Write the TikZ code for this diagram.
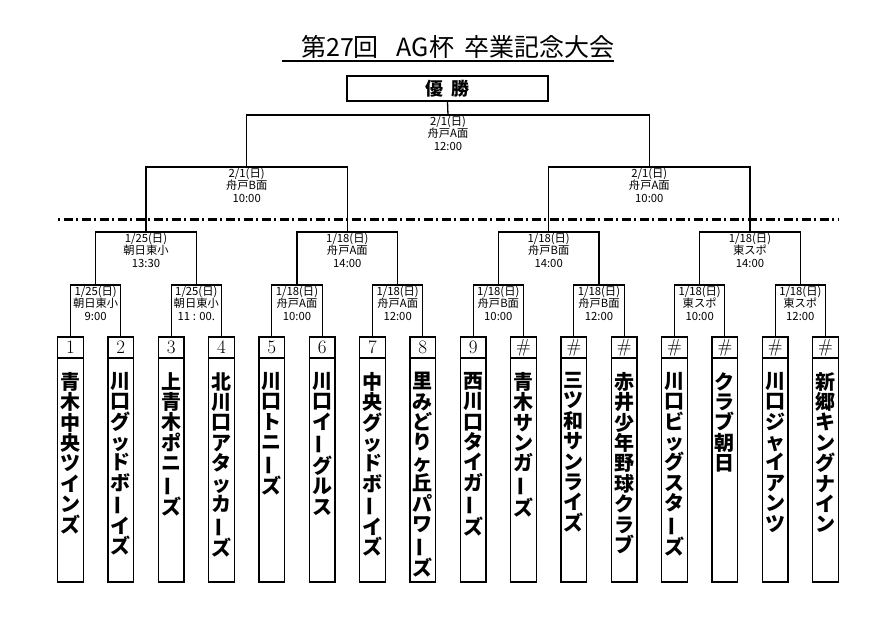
\documentclass[tikz,border=0pt]{standalone}
\usepackage{fontspec}
\usepackage{graphicx}
\usetikzlibrary{calc}
\newfontfamily\cjk{Noto Sans CJK JP}
\newcommand\Vb{\rotatebox[origin=c]{90}{ー}}
\tikzset{
  br/.style={line width=1.3pt, draw=black},
  lbl/.style={font=\cjk\fontsize{11.3}{12.6}\selectfont, align=center, anchor=north, inner sep=0.8pt},
  teambox/.style={draw, line width=1.3pt, minimum width=25.5pt, minimum height=245pt, inner sep=0pt},
  numcell/.style={draw, line width=1.3pt, minimum width=25.5pt, minimum height=21pt, inner sep=0pt, font=\fontsize{19}{19}\selectfont},
  tname/.style={anchor=north, inner sep=0pt, align=center, font=\cjk\bfseries\fontsize{20}{20.4}\selectfont},
  dashdot/.style={line width=2.5pt, dash pattern=on 2pt off 3.5pt on 9pt off 3.5pt}
}
\begin{document}
\begin{tikzpicture}[x=1pt,y=-1pt]
\useasboundingbox (0,0) rectangle (889,628);
% title
\node[anchor=base west, inner sep=0pt, font=\cjk\fontsize{25}{25}\selectfont] (title) at (282,57)
  {\hspace*{19pt}第27回\hspace{18pt}AG杯\hspace{10pt}卒業記念大会};
\draw[line width=1.8pt] ([yshift=-4pt]title.base west) -- ([yshift=-4pt]title.base east);
% winner
\node[draw, line width=2pt, minimum width=201pt, minimum height=25pt, inner sep=0pt,
  font=\cjk\bfseries\fontsize{18}{18}\selectfont] (win) at (447.5,88.5) {優\hspace{8pt}勝};
% teams
\foreach \i/\num/\nm in {
  1/1/{青\\木\\中\\央\\ツ\\イ\\ン\\ズ},
  2/2/{川\\口\\グ\\ッ\\ド\\ボ\\\Vb\\イ\\ズ},
  3/3/{上\\青\\木\\ポ\\ニ\\\Vb\\ズ},
  4/4/{北\\川\\口\\ア\\タ\\ッ\\カ\\\Vb\\ズ},
  5/5/{川\\口\\ト\\ニ\\\Vb\\ズ},
  6/6/{川\\口\\イ\\\Vb\\グ\\ル\\ス},
  7/7/{中\\央\\グ\\ッ\\ド\\ボ\\\Vb\\イ\\ズ},
  8/8/{里\\み\\ど\\り\\ヶ\\丘\\パ\\ワ\\\Vb\\ズ},
  9/9/{西\\川\\口\\タ\\イ\\ガ\\\Vb\\ズ},
  10/\#/{青\\木\\サ\\ン\\ガ\\\Vb\\ズ},
  11/\#/{三\\ツ\\和\\サ\\ン\\ラ\\イ\\ズ},
  12/\#/{赤\\井\\少\\年\\野\\球\\ク\\ラ\\ブ},
  13/\#/{川\\口\\ビ\\ッ\\グ\\ス\\タ\\\Vb\\ズ},
  14/\#/{ク\\ラ\\ブ\\朝\\日},
  15/\#/{川\\口\\ジ\\ャ\\イ\\ア\\ン\\ツ},
  16/\#/{新\\郷\\キ\\ン\\グ\\ナ\\イ\\ン}}{
  \pgfmathsetmacro\cx{70.5+(\i-1)*50.3333}
  \node[teambox] (t\i) at (\cx,459.5) {};
  \node[numcell] (n\i) at (\cx,347.5) {\num};
  \node[tname] (m\i) at (\cx,372) {\nm};
}
% bracket joints
\foreach \k in {1,...,8}{
  \pgfmathsetmacro\x{70.5+(2*\k-1.5)*50.3333}
  \coordinate (q\k) at (\x,285);
}
\foreach \k in {1,...,4}{
  \pgfmathsetmacro\x{70.5+(4*\k-2.5)*50.3333}
  \coordinate (s\k) at (\x,232);
}
\foreach \k in {1,2}{
  \pgfmathsetmacro\x{70.5+(8*\k-4.5)*50.3333}
  \coordinate (h\k) at (\x,167);
}
\coordinate (top) at (448,115);
% brackets
\foreach \k in {1,...,8}{
  \pgfmathtruncatemacro\a{2*\k-1}
  \pgfmathtruncatemacro\b{2*\k}
  \draw[br] (n\a.north) |- (q\k) -| (n\b.north);
}
\foreach \k in {1,...,4}{
  \pgfmathtruncatemacro\a{2*\k-1}
  \pgfmathtruncatemacro\b{2*\k}
  \draw[br] (q\a) |- (s\k) -| (q\b);
}
\draw[br] (s1) |- (h1) -| (s2);
\draw[br] (s3) |- (h2) -| (s4);
\draw[br] (h1) |- (top) -| (h2);
\draw[br] (top) -- (win.south);
% dash-dot line
\coordinate (dl) at (58,219.5);
\coordinate (dr) at (838,219.5);
\draw[dashdot] (dl) -- (dr);
% labels
\node[lbl] (lt) at (top) {2/1(日)\\舟戸A面\\12:00};
\node[lbl] (lh1) at (h1) {2/1(日)\\舟戸B面\\10:00};
\node[lbl] (lh2) at (h2) {2/1(日)\\舟戸A面\\10:00};
\node[lbl] (ls1) at (s1) {1/25(日)\\朝日東小\\13:30};
\node[lbl] (ls2) at (s2) {1/18(日)\\舟戸A面\\14:00};
\node[lbl] (ls3) at (s3) {1/18(日)\\舟戸B面\\14:00};
\node[lbl] (ls4) at (s4) {1/18(日)\\東スポ\\14:00};
\node[lbl] (lq1) at (q1) {1/25(日)\\朝日東小\\9:00};
\node[lbl] (lq2) at (q2) {1/25(日)\\朝日東小\\11 : 00.};
\node[lbl] (lq3) at (q3) {1/18(日)\\舟戸A面\\10:00};
\node[lbl] (lq4) at (q4) {1/18(日)\\舟戸A面\\12:00};
\node[lbl] (lq5) at (q5) {1/18(日)\\舟戸B面\\10:00};
\node[lbl] (lq6) at (q6) {1/18(日)\\舟戸B面\\12:00};
\node[lbl] (lq7) at (q7) {1/18(日)\\東スポ\\10:00};
\node[lbl] (lq8) at (q8) {1/18(日)\\東スポ\\12:00};
\end{tikzpicture}
\end{document}
